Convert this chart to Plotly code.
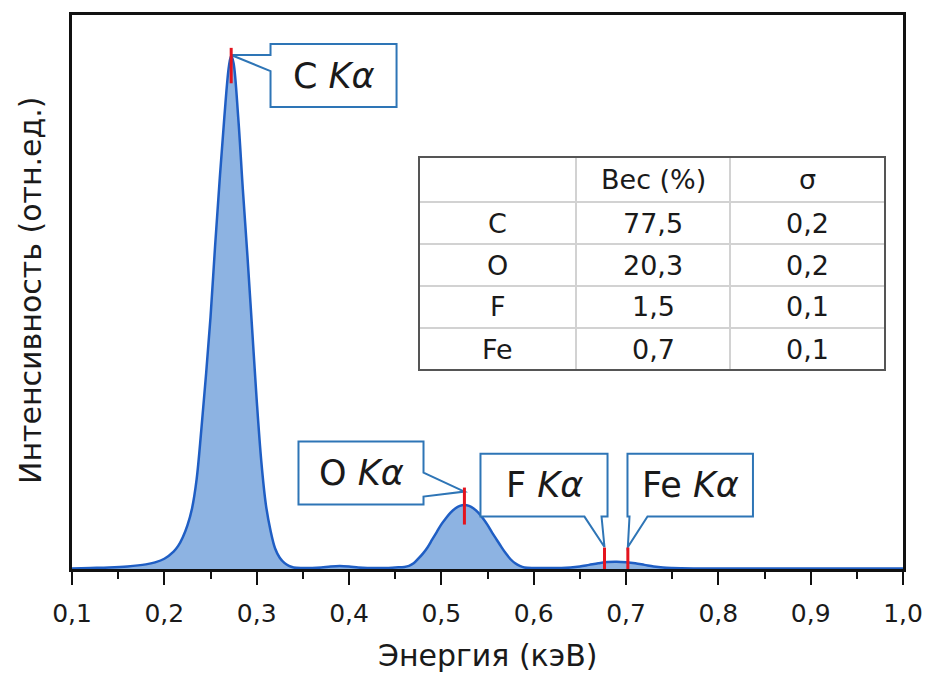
import plotly.graph_objects as go

# EDS spectrum (energy in keV, intensity in relative units)
energy_kev = [0.10, 0.12, 0.14, 0.16, 0.18, 0.19, 0.20, 0.21, 0.215, 0.22,
              0.225, 0.23, 0.235, 0.24, 0.245, 0.25, 0.255, 0.26, 0.265, 0.27,
              0.2725, 0.275, 0.28, 0.285, 0.29, 0.295, 0.30, 0.305, 0.31, 0.315,
              0.32, 0.325, 0.33, 0.335, 0.34, 0.35, 0.36, 0.37, 0.38, 0.39,
              0.40, 0.41, 0.42, 0.43, 0.44, 0.45, 0.46, 0.465, 0.47, 0.475,
              0.48, 0.485, 0.49, 0.495, 0.50, 0.505, 0.51, 0.515, 0.52, 0.525,
              0.53, 0.535, 0.54, 0.545, 0.55, 0.555, 0.56, 0.565, 0.57, 0.575,
              0.58, 0.585, 0.59, 0.60, 0.61, 0.62, 0.63, 0.64, 0.65, 0.66,
              0.67, 0.68, 0.69, 0.70, 0.71, 0.72, 0.73, 0.74, 0.75, 0.76,
              0.78, 0.80, 0.85, 0.90, 0.95, 1.00]
intensity = [0.001, 0.002, 0.003, 0.005, 0.009, 0.013, 0.020, 0.034, 0.045, 0.062,
             0.085, 0.118, 0.175, 0.27, 0.375, 0.49, 0.63, 0.76, 0.88, 0.98,
             1.0, 0.985, 0.88, 0.74, 0.61, 0.47, 0.33, 0.21, 0.125, 0.075,
             0.04, 0.022, 0.012, 0.006, 0.003, 0.002, 0.002, 0.003, 0.005, 0.006,
             0.005, 0.003, 0.002, 0.002, 0.002, 0.003, 0.004, 0.006, 0.011, 0.02,
             0.03, 0.042, 0.057, 0.072, 0.087, 0.099, 0.110, 0.118, 0.123, 0.1245,
             0.123, 0.118, 0.110, 0.099, 0.086, 0.071, 0.057, 0.043, 0.030, 0.019,
             0.011, 0.006, 0.003, 0.002, 0.002, 0.002, 0.002, 0.003, 0.005, 0.008,
             0.011, 0.0135, 0.014, 0.013, 0.011, 0.008, 0.005, 0.003, 0.002, 0.0015,
             0.001, 0.001, 0.001, 0.001, 0.001, 0.001]

# Line identification
line_elements = ["C", "O", "F", "Fe"]
line_energy = [0.2724, 0.525, 0.6767, 0.702]

# Composition table
table_header = ["", "Вес (%)", "σ"]
table_elements = ["C", "O", "F", "Fe"]
table_weight = ["77,5", "20,3", "1,5", "0,7"]
table_sigma = ["0,2", "0,2", "0,1", "0,1"]

tick_values = [0.1, 0.2, 0.3, 0.4, 0.5, 0.6, 0.7, 0.8, 0.9, 1.0]
tick_text = ["0,1", "0,2", "0,3", "0,4", "0,5", "0,6", "0,7", "0,8", "0,9", "1,0"]

# ---- layout geometry ----
W, H = 927, 673
ML, MR, MT, MB = 72, 24, 15, 104
PW, PH = W - ML - MR, H - MT - MB
Y_MAX = 1.079

FONT = "DejaVu Sans"
TEXT_COLOR = "#1a1a1a"
LINE_BLUE = "rgb(31,94,196)"
FILL_BLUE = "rgb(141,179,226)"
CALLOUT_BLUE = "rgb(46,117,182)"
MARK_RED = "rgb(228,20,30)"


def paper_x(px):
    return (px - ML) / PW


def paper_y(py):
    return (H - MB - py) / PH


fig = go.Figure()
fig.add_trace(go.Scatter(
    x=energy_kev, y=intensity, mode="lines", line_shape="spline",
    line=dict(color=LINE_BLUE, width=2.5),
    fill="tozeroy", fillcolor=FILL_BLUE, hoverinfo="skip", showlegend=False,
))

shapes = []
annotations = []

# Callout boxes: (box left, right, top, bottom) in data units, wedge side and base,
# tip height, and red marker extent
callouts = [
    dict(box=(0.315, 0.4515, 1.0224, 0.8998), side="left", base=(1.001, 0.9698),
         tip_y=1.001, mark=(0.946, 1.015)),
    dict(box=(0.3453, 0.4807, 0.2481, 0.1255), side="right", base=(0.1877, 0.1411),
         tip_y=0.1508, mark=(0.0866, 0.1586)),
    dict(box=(0.5424, 0.680, 0.2247, 0.1021), side="bottom", base=(0.6735, 0.6550),
         tip_y=0.0428, mark=(-0.001, 0.0418)),
    dict(box=(0.7016, 0.8375, 0.2247, 0.1021), side="bottom", base=(0.7233, 0.7038),
         tip_y=0.0428, mark=(-0.001, 0.0418)),
]

for name, e, c in zip(line_elements, line_energy, callouts):
    x0, x1, yt, yb = c["box"]
    tx, ty = e, c["tip_y"]
    b1, b2 = c["base"]
    if c["side"] == "left":
        pts = [(x0, yt), (x1, yt), (x1, yb), (x0, yb), (x0, b2), (tx, ty), (x0, b1)]
    elif c["side"] == "right":
        pts = [(x0, yt), (x1, yt), (x1, b1), (tx, ty), (x1, b2), (x1, yb), (x0, yb)]
    else:
        pts = [(x0, yt), (x1, yt), (x1, yb), (b1, yb), (tx, ty), (b2, yb), (x0, yb)]
    path = "M " + " L ".join(f"{px},{py}" for px, py in pts) + " Z"
    shapes.append(dict(type="path", path=path, xref="x", yref="y",
                       line=dict(color=CALLOUT_BLUE, width=2), fillcolor="white"))
    annotations.append(dict(
        x=(x0 + x1) / 2, y=(yt + yb) / 2, xref="x", yref="y",
        text=f"{name} <i>Kα</i>", showarrow=False,
        font=dict(family=FONT, size=35, color=TEXT_COLOR),
        xanchor="center", yanchor="middle",
    ))

for e, c in zip(line_energy, callouts):
    m0, m1 = c["mark"]
    shapes.append(dict(type="line", xref="x", yref="y", x0=e, x1=e, y0=m0, y1=m1,
                       line=dict(color=MARK_RED, width=3)))

# ---- composition table ----
col_edges = [419, 576, 730, 885]
row_edges = [157, 202, 244, 286, 328, 370]
for px in col_edges[1:-1]:
    shapes.append(dict(type="line", xref="paper", yref="paper",
                       x0=paper_x(px), x1=paper_x(px),
                       y0=paper_y(row_edges[0]), y1=paper_y(row_edges[-1]),
                       line=dict(color="#d2d2d2", width=2)))
for py in row_edges[1:-1]:
    shapes.append(dict(type="line", xref="paper", yref="paper",
                       x0=paper_x(col_edges[0]), x1=paper_x(col_edges[-1]),
                       y0=paper_y(py), y1=paper_y(py),
                       line=dict(color="#d2d2d2", width=2)))
shapes.append(dict(type="rect", xref="paper", yref="paper",
                   x0=paper_x(col_edges[0]), x1=paper_x(col_edges[-1]),
                   y0=paper_y(row_edges[0]), y1=paper_y(row_edges[-1]),
                   line=dict(color="#555555", width=2)))

rows = [table_header] + [list(r) for r in zip(table_elements, table_weight, table_sigma)]
for ri, row in enumerate(rows):
    cy = (row_edges[ri] + row_edges[ri + 1]) / 2
    for ci, cell in enumerate(row):
        if not cell:
            continue
        cx = (col_edges[ci] + col_edges[ci + 1]) / 2
        annotations.append(dict(
            x=paper_x(cx), y=paper_y(cy), xref="paper", yref="paper",
            text=cell, showarrow=False, xanchor="center", yanchor="middle",
            font=dict(family=FONT, size=27, color=TEXT_COLOR),
        ))

# Axis titles
annotations.append(dict(
    x=0.5, y=paper_y(655), xref="paper", yref="paper", text="Энергия (кэВ)",
    showarrow=False, xanchor="center", yanchor="middle",
    font=dict(family=FONT, size=30, color=TEXT_COLOR),
))
annotations.append(dict(
    x=paper_x(30), y=paper_y(290), xref="paper", yref="paper",
    text="Интенсивность (отн.ед.)", textangle=-90,
    showarrow=False, xanchor="center", yanchor="middle",
    font=dict(family=FONT, size=30, color=TEXT_COLOR),
))

fig.update_layout(
    width=W, height=H, autosize=False,
    margin=dict(l=ML, r=MR, t=MT, b=MB, pad=0, autoexpand=False),
    paper_bgcolor="white", plot_bgcolor="white",
    shapes=shapes, annotations=annotations, showlegend=False,
    xaxis=dict(
        range=[0.1, 1.0], tickmode="array", tickvals=tick_values, ticktext=tick_text,
        ticks="outside", ticklen=13, tickwidth=2, tickcolor="#111",
        minor=dict(ticks="outside", ticklen=7, tickwidth=2, tickcolor="#111", dtick=0.05),
        showline=True, linecolor="#111", linewidth=2.5, mirror=True,
        showgrid=False, zeroline=False, layer="below traces", automargin=False,
        tickfont=dict(family=FONT, size=25, color=TEXT_COLOR),
        ticklabelstandoff=7,
    ),
    yaxis=dict(
        range=[0, Y_MAX], showticklabels=False, ticks="",
        showline=True, linecolor="#111", linewidth=2.5, mirror=True,
        showgrid=False, zeroline=False, layer="below traces", automargin=False,
    ),
)

fig.write_html("out.html")
